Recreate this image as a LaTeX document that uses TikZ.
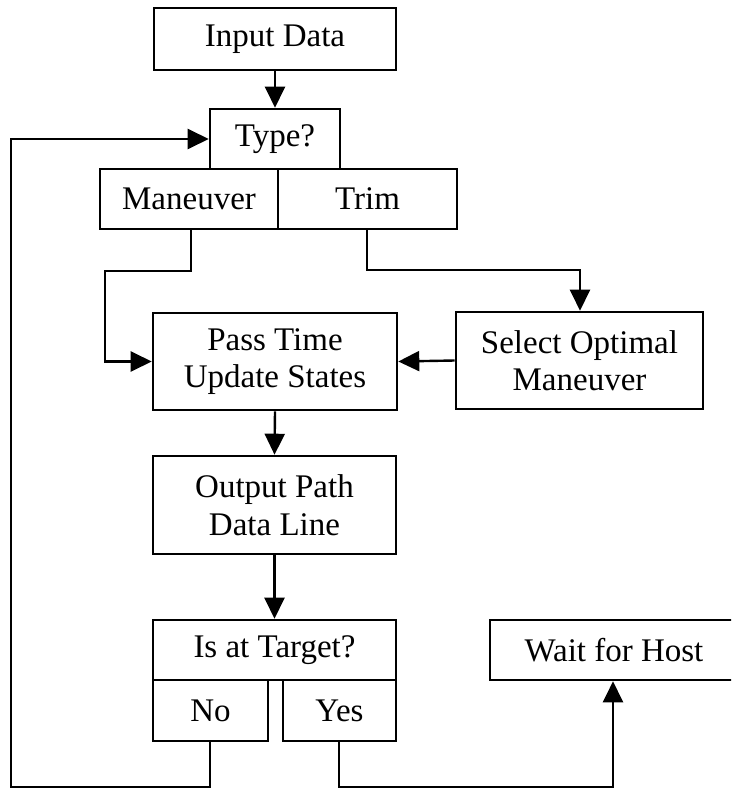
\documentclass[tikz,border=0pt]{standalone}
\usepackage{fontspec}
\setmainfont{Liberation Serif}
\usetikzlibrary{arrows.meta}
\begin{document}
\begin{tikzpicture}[x=1pt,y=-1pt,
  box/.style={draw, line width=2.6pt, rectangle, inner sep=0pt, align=center,
    font=\fontsize{33}{37.5}\selectfont},
  flow/.style={line width=2.4pt, -{Triangle[length=21pt,width=20pt]}},
  link/.style={line width=2.4pt}]
\clip (0,0) rectangle (731,789);
\fill[white] (0,0) rectangle (731,789);

% process boxes
\node[box, minimum width=242pt, minimum height=62pt] (input) at (275,39) {Input Data};
\node[box, minimum width=130pt, minimum height=60pt] (type) at (275,139) {Type?};
\node[box, minimum width=178pt, minimum height=60pt] (man) at (189,199) {Maneuver};
\node[box, minimum width=179pt, minimum height=60pt] (trim) at (367.5,199) {Trim};
\node[box, minimum width=244pt, minimum height=97pt] (pass) at (275,361.5) {Pass Time\\Update States};
\node[box, minimum width=247pt, minimum height=97pt] (sel) at (579.5,360.5) {Select Optimal\\Maneuver};
\node[box, minimum width=243pt, minimum height=98pt] (out) at (274.5,505) {Output Path\\Data Line};
\node[box, minimum width=243pt, minimum height=60pt] (tgt) at (274.5,650) {Is at Target?};
\node[box, minimum width=115pt, minimum height=61pt] (no) at (210.5,710.5) {No};
\node[box, minimum width=113pt, minimum height=61pt] (yes) at (339.5,710.5) {Yes};
\node[box, minimum width=248pt, minimum height=60pt] (wait) at (614,650) {Wait for Host};

% bends of the routed connectors
\coordinate (manA) at (191,271);
\coordinate (manB) at (105,271);
\coordinate (trimA) at (367,270);
\coordinate (trimB) at (580,270);
\coordinate (noA) at (210,787);
\coordinate (noB) at (11,787);
\coordinate (noC) at (11,139);
\coordinate (yesA) at (339,787);
\coordinate (yesB) at (613,787);

% connectors
\draw[flow] (input.south) -- (type.north);
\draw[flow] (man.south -| manA) -- (manA) -- (manB) |- (pass.west);
\draw[flow] (trim.south -| trimA) -- (trimA) -- (trimB) -- (sel.north -| trimB);
\draw[flow] (sel.west) -- (pass.east);
\draw[flow] (pass.south) -- (out.north);
\draw[flow] (out.south) -- (tgt.north);
\draw[flow] (no.south -| noA) -- (noA) -- (noB) -- (noC) -- (type.west);
\draw[flow] (yes.south -| yesA) -- (yesA) -- (yesB) -- (wait.south -| yesB);
\end{tikzpicture}
\end{document}
